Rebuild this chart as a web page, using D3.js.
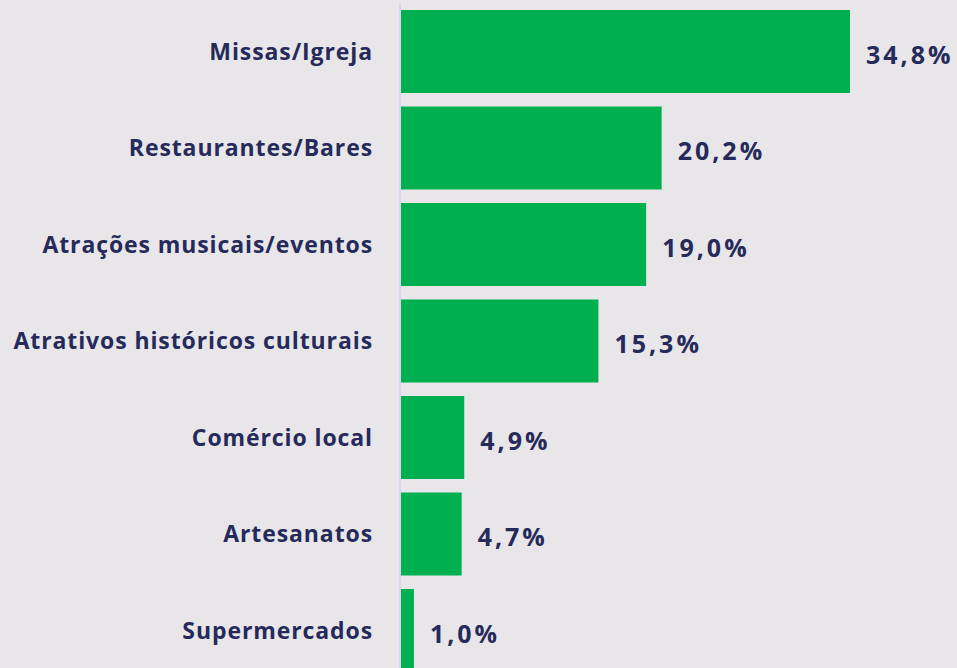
<!DOCTYPE html>
<html>
<head>
<meta charset="utf-8">
<script src="https://cdn.jsdelivr.net/npm/d3@7"></script>
<style>
html,body{margin:0;padding:0;background:#e8e6e9;}
svg{display:block;}
</style>
</head>
<body>
<svg id="chart" width="957" height="668"></svg>
<script>
const categories = ["Missas/Igreja","Restaurantes/Bares","Atrações musicais/eventos","Atrativos históricos culturais","Comércio local","Artesanatos","Supermercados"];
const values = [34.8, 20.2, 19.0, 15.3, 4.9, 4.7, 1.0];
const valueLabels = ["34,8%","20,2%","19,0%","15,3%","4,9%","4,7%","1,0%"];

const svg = d3.select("#chart");
const W = 957, H = 668;
svg.append("rect").attr("width", W).attr("height", H).attr("fill", "#e8e6e9");

const x = d3.scaleLinear().domain([0, 34.8]).range([401, 850]);
const y = d3.scaleBand().domain(categories).range([3.25, 678.75]).paddingInner(0.14).paddingOuter(0.07);

const textColor = "#262a5b";
const font = "'Open Sans', Lato, sans-serif";

svg.selectAll("rect.bar").data(categories).enter().append("rect")
  .attr("class","bar")
  .attr("x", x(0))
  .attr("y", d => y(d))
  .attr("width", (d,i) => x(values[i]) - x(0))
  .attr("height", y.bandwidth())
  .attr("fill", "#00b050");

svg.append("line")
  .attr("x1", 400).attr("x2", 400)
  .attr("y1", 4).attr("y2", H)
  .attr("stroke", "#d4d6ee").attr("stroke-width", 2);

svg.selectAll("text.cat").data(categories).enter().append("text")
  .attr("class","cat")
  .attr("x", 373)
  .attr("y", d => y(d) + y.bandwidth()/2 + 8)
  .attr("text-anchor","end")
  .attr("font-family", font)
  .attr("font-weight", "bold")
  .attr("font-size", 23)
  .attr("letter-spacing", 0.9)
  .attr("fill", textColor)
  .text(d => d);

svg.selectAll("text.val").data(categories).enter().append("text")
  .attr("class","val")
  .attr("x", (d,i) => x(values[i]) + 16)
  .attr("y", d => y(d) + y.bandwidth()/2 + 12)
  .attr("font-family", font)
  .attr("font-weight", "bold")
  .attr("font-size", 25)
  .attr("letter-spacing", 3)
  .attr("fill", textColor)
  .text((d,i) => valueLabels[i]);
</script>
</body>
</html>
